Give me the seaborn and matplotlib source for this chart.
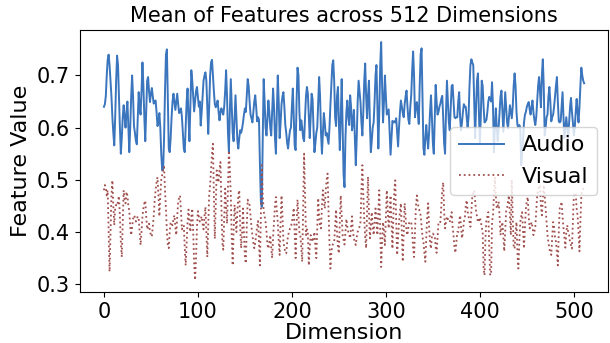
import numpy as np
import pandas as pd
import matplotlib
matplotlib.use('Agg')
import matplotlib.pyplot as plt
import seaborn as sns

# mean feature value per dimension
audio = [
    0.64, 0.645, 0.66, 0.70, 0.73, 0.74, 0.72, 0.69, 0.66, 0.62,
    0.59, 0.566, 0.62, 0.69, 0.738, 0.72, 0.66, 0.60, 0.55, 0.58,
    0.62, 0.643, 0.62, 0.60, 0.63, 0.65, 0.60, 0.553, 0.60, 0.66,
    0.70, 0.66, 0.603, 0.59, 0.575, 0.568, 0.62, 0.668, 0.64, 0.625,
    0.67, 0.725, 0.68, 0.62, 0.574, 0.63, 0.69, 0.697, 0.67, 0.649,
    0.665, 0.676, 0.66, 0.646, 0.65, 0.652, 0.63, 0.603, 0.61, 0.628,
    0.60, 0.55, 0.518, 0.52, 0.58, 0.67, 0.74, 0.75, 0.65, 0.56, 0.553,
    0.58, 0.62, 0.65, 0.665, 0.65, 0.634, 0.65, 0.665, 0.645, 0.628,
    0.63, 0.637, 0.62, 0.59, 0.56, 0.553, 0.60, 0.65, 0.675, 0.62,
    0.574, 0.64, 0.71, 0.69, 0.66, 0.631, 0.65, 0.67, 0.678, 0.66,
    0.64, 0.65, 0.604, 0.63, 0.66, 0.69, 0.70, 0.706, 0.69, 0.64,
    0.588, 0.64, 0.70, 0.725, 0.73, 0.70, 0.67, 0.645, 0.639, 0.645,
    0.652, 0.63, 0.614, 0.63, 0.637, 0.63, 0.625, 0.64, 0.67, 0.71, 0.66,
    0.59, 0.553, 0.63, 0.693, 0.64, 0.59, 0.574, 0.62, 0.662, 0.62,
    0.575, 0.56, 0.58, 0.595, 0.59, 0.598, 0.61, 0.625, 0.637, 0.63,
    0.66, 0.693, 0.68, 0.65, 0.625, 0.618, 0.61, 0.63, 0.65, 0.662,
    0.64, 0.612, 0.62, 0.615, 0.53, 0.46, 0.448, 0.58, 0.693, 0.65,
    0.60, 0.585, 0.62, 0.652, 0.63, 0.60, 0.585, 0.63, 0.675, 0.64,
    0.58, 0.55, 0.63, 0.70, 0.65, 0.58, 0.61, 0.645, 0.66, 0.668, 0.64,
    0.605, 0.59, 0.57, 0.56, 0.58, 0.595, 0.60, 0.64, 0.675, 0.62,
    0.565, 0.557, 0.65, 0.715, 0.70, 0.63, 0.595, 0.614, 0.60, 0.58,
    0.574, 0.62, 0.66, 0.678, 0.665, 0.62, 0.58, 0.62, 0.665, 0.655,
    0.60, 0.553, 0.57, 0.59, 0.60, 0.65, 0.697, 0.66, 0.59, 0.55,
    0.59, 0.628, 0.61, 0.585, 0.59, 0.58, 0.569, 0.60, 0.643, 0.68,
    0.72, 0.729, 0.69, 0.62, 0.603, 0.66, 0.678, 0.61, 0.557, 0.62,
    0.693, 0.60, 0.51, 0.486, 0.58, 0.63, 0.652, 0.62, 0.605, 0.662, 0.64,
    0.595, 0.61, 0.634, 0.58, 0.528, 0.58, 0.65, 0.69, 0.67, 0.649,
    0.61, 0.585, 0.63, 0.69, 0.723, 0.66, 0.618, 0.66, 0.69, 0.61,
    0.553, 0.575, 0.60, 0.61, 0.65, 0.70, 0.72, 0.64, 0.56, 0.63,
    0.72, 0.764, 0.68, 0.61, 0.65, 0.70, 0.66, 0.625, 0.63, 0.635,
    0.59, 0.548, 0.58, 0.613, 0.61, 0.612, 0.61, 0.618, 0.59, 0.564,
    0.60, 0.63, 0.652, 0.64, 0.628, 0.62, 0.645, 0.66, 0.671, 0.64, 0.615,
    0.607, 0.64, 0.662, 0.71, 0.746, 0.70, 0.62, 0.64, 0.649, 0.63,
    0.607, 0.68, 0.74, 0.752, 0.65, 0.56, 0.548, 0.58, 0.605, 0.58,
    0.56, 0.59, 0.63, 0.662, 0.62, 0.57, 0.55, 0.62, 0.682, 0.65,
    0.625, 0.63, 0.64, 0.646, 0.655, 0.661, 0.62, 0.57, 0.55, 0.63,
    0.69, 0.65, 0.61, 0.595, 0.64, 0.68, 0.682, 0.65, 0.62, 0.618,
    0.62, 0.62, 0.65, 0.668, 0.62, 0.595, 0.61, 0.63, 0.645, 0.64, 0.64,
    0.62, 0.60, 0.62, 0.68, 0.72, 0.731, 0.725, 0.72, 0.65, 0.58,
    0.64, 0.69, 0.704, 0.63, 0.57, 0.62, 0.69, 0.68, 0.64, 0.61,
    0.612, 0.615, 0.63, 0.65, 0.659, 0.655, 0.65, 0.687, 0.64, 0.553,
    0.60, 0.637, 0.60, 0.574, 0.60, 0.63, 0.66, 0.671, 0.63, 0.592,
    0.63, 0.668, 0.64, 0.61, 0.599, 0.62, 0.643, 0.63, 0.618, 0.64,
    0.68, 0.704, 0.68, 0.63, 0.605, 0.60, 0.605, 0.60, 0.528, 0.55,
    0.58, 0.61, 0.625, 0.63, 0.64, 0.645, 0.649, 0.635, 0.625, 0.64, 0.652,
    0.63, 0.615, 0.605, 0.62, 0.65, 0.68, 0.697, 0.67, 0.639, 0.70,
    0.731, 0.68, 0.585, 0.60, 0.62, 0.625, 0.66, 0.678, 0.65, 0.612,
    0.62, 0.625, 0.64, 0.66, 0.68, 0.697, 0.65, 0.612, 0.61, 0.612,
    0.64, 0.668, 0.62, 0.58, 0.60, 0.62, 0.60, 0.58, 0.61, 0.64,
    0.657, 0.63, 0.61, 0.585, 0.60, 0.63, 0.655, 0.63, 0.61, 0.64,
    0.68, 0.715, 0.70, 0.69, 0.685,
]

visual = [
    0.48, 0.49, 0.486, 0.47, 0.48, 0.40, 0.324, 0.40, 0.47, 0.499,
    0.45, 0.413, 0.448, 0.452, 0.45, 0.46, 0.469, 0.43, 0.38, 0.352,
    0.42, 0.48, 0.46, 0.455, 0.477, 0.47, 0.45, 0.44, 0.41, 0.394,
    0.41, 0.425, 0.432, 0.428, 0.42, 0.425, 0.43, 0.426, 0.40, 0.375,
    0.40, 0.43, 0.445, 0.455, 0.46, 0.43, 0.405, 0.41, 0.416, 0.40,
    0.395, 0.391, 0.41, 0.43, 0.46, 0.48, 0.495, 0.505, 0.47, 0.43,
    0.47, 0.50, 0.51, 0.52, 0.525, 0.48, 0.445, 0.40, 0.375, 0.369,
    0.40, 0.419, 0.415, 0.413, 0.425, 0.432, 0.41, 0.394, 0.43, 0.458,
    0.465, 0.47, 0.44, 0.405, 0.41, 0.413, 0.37, 0.336, 0.38, 0.42,
    0.443, 0.42, 0.40, 0.43, 0.445, 0.40, 0.34, 0.308, 0.35, 0.41,
    0.44, 0.43, 0.42, 0.425, 0.43, 0.415, 0.405, 0.43, 0.448, 0.40,
    0.352, 0.41, 0.47, 0.49, 0.52, 0.55, 0.569, 0.47, 0.387, 0.45,
    0.518, 0.505, 0.495, 0.52, 0.534, 0.45, 0.38, 0.366, 0.43, 0.483,
    0.45, 0.416, 0.49, 0.556, 0.52, 0.47, 0.39, 0.336, 0.40, 0.452,
    0.43, 0.40, 0.44, 0.47, 0.48, 0.41, 0.369, 0.40, 0.445, 0.40,
    0.35, 0.34, 0.41, 0.462, 0.455, 0.452, 0.43, 0.41, 0.394, 0.38,
    0.369, 0.38, 0.394, 0.41, 0.421, 0.38, 0.336, 0.43, 0.528, 0.47,
    0.44, 0.43, 0.419, 0.40, 0.375, 0.368, 0.38, 0.394, 0.37, 0.35,
    0.39, 0.42, 0.45, 0.467, 0.44, 0.419, 0.38, 0.356, 0.42, 0.47,
    0.43, 0.381, 0.37, 0.36, 0.359, 0.38, 0.394, 0.40, 0.407, 0.41,
    0.419, 0.43, 0.446, 0.40, 0.35, 0.41, 0.462, 0.43, 0.40, 0.394,
    0.37, 0.343, 0.45, 0.55, 0.47, 0.394, 0.405, 0.40, 0.336, 0.37,
    0.394, 0.39, 0.381, 0.39, 0.40, 0.37, 0.35, 0.41, 0.465, 0.43,
    0.41, 0.407, 0.45, 0.48, 0.46, 0.445, 0.48, 0.50, 0.512, 0.44,
    0.38, 0.33, 0.36, 0.374, 0.378, 0.381, 0.41, 0.443, 0.40, 0.37,
    0.359, 0.42, 0.47, 0.43, 0.394, 0.385, 0.376, 0.40, 0.425, 0.41,
    0.40, 0.395, 0.388, 0.41, 0.43, 0.40, 0.388, 0.38, 0.375, 0.39,
    0.40, 0.405, 0.41, 0.419, 0.48, 0.528, 0.47, 0.425, 0.39, 0.369,
    0.44, 0.506, 0.44, 0.388, 0.41, 0.438, 0.41, 0.394, 0.42, 0.445,
    0.42, 0.394, 0.44, 0.48, 0.40, 0.333, 0.38, 0.419, 0.40, 0.375,
    0.43, 0.48, 0.44, 0.407, 0.44, 0.47, 0.42, 0.368, 0.43, 0.48,
    0.499, 0.42, 0.356, 0.39, 0.42, 0.44, 0.455, 0.40, 0.343, 0.40,
    0.455, 0.43, 0.40, 0.394, 0.41, 0.419, 0.42, 0.419, 0.40, 0.37,
    0.352, 0.40, 0.45, 0.47, 0.455, 0.445, 0.44, 0.432, 0.41, 0.39,
    0.381, 0.36, 0.343, 0.39, 0.43, 0.455, 0.41, 0.38, 0.368, 0.39,
    0.397, 0.395, 0.394, 0.37, 0.36, 0.39, 0.419, 0.42, 0.419, 0.45,
    0.48, 0.495, 0.44, 0.407, 0.42, 0.43, 0.425, 0.42, 0.419, 0.43,
    0.438, 0.41, 0.394, 0.37, 0.36, 0.38, 0.40, 0.40, 0.42, 0.432,
    0.41, 0.388, 0.40, 0.42, 0.425, 0.45, 0.461, 0.44, 0.43, 0.42,
    0.41, 0.44, 0.47, 0.475, 0.48, 0.46, 0.44, 0.43, 0.419, 0.42,
    0.428, 0.42, 0.41, 0.40, 0.33, 0.317, 0.39, 0.425, 0.43, 0.438,
    0.37, 0.317, 0.32, 0.419, 0.432, 0.47, 0.505, 0.47, 0.445, 0.45,
    0.458, 0.43, 0.394, 0.41, 0.419, 0.39, 0.363, 0.40, 0.44, 0.445,
    0.46, 0.47, 0.43, 0.394, 0.50, 0.43, 0.37, 0.368, 0.40, 0.419,
    0.36, 0.33, 0.38, 0.419, 0.43, 0.438, 0.40, 0.368, 0.41, 0.445,
    0.46, 0.467, 0.43, 0.407, 0.41, 0.419, 0.41, 0.394, 0.40, 0.41,
    0.44, 0.47, 0.483, 0.485, 0.49, 0.45, 0.432, 0.46, 0.49, 0.47,
    0.445, 0.42, 0.394, 0.38, 0.368, 0.36, 0.356, 0.39, 0.419, 0.41,
    0.39, 0.381, 0.36, 0.336, 0.40, 0.445, 0.45, 0.458, 0.43, 0.407,
    0.39, 0.37, 0.40, 0.413, 0.40, 0.394, 0.38, 0.375, 0.368, 0.42,
    0.47, 0.472, 0.475, 0.445, 0.432, 0.40, 0.363, 0.42, 0.47, 0.48,
    0.483, 0.485,
]

assert len(audio) == 512 and len(visual) == 512, f"{len(audio)} {len(visual)}"

dims = np.arange(len(audio))

fig = plt.figure(figsize=(6.1, 3.43), dpi=100)
ax = fig.add_axes([0.131, 0.149, 0.866, 0.763])

sns.lineplot(x=dims, y=audio, ax=ax, color='#3a75bd', linewidth=1.4, label='Audio')
sns.lineplot(x=dims, y=visual, ax=ax, color='#a0504e', linewidth=1.3,
             linestyle=':', label='Visual')

ax.set_title('Mean of Features across 512 Dimensions', fontsize=15)
ax.set_xlabel('Dimension', fontsize=16, labelpad=1)
ax.set_ylabel('Feature Value', fontsize=16)
ax.set_yticks([0.3, 0.4, 0.5, 0.6, 0.7])
ax.tick_params(labelsize=15)
ax.legend(loc='center right', fontsize=16)

fig.savefig('out.png', dpi=100)
